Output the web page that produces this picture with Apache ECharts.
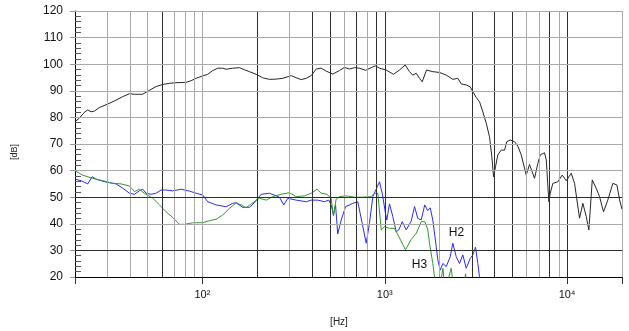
<!DOCTYPE html>
<html>
<head>
<meta charset="utf-8">
<script src="https://cdn.jsdelivr.net/npm/echarts@6/dist/echarts.min.js"></script>
<style>
html,body{margin:0;padding:0;background:#fff;}
#chart{width:629px;height:331px;}
</style>
</head>
<body>
<div id="chart"></div>
<script>
// Fundamental SPL [Hz, dB]
const splData = [[20,78.4],[21.1,79.7],[22.5,81.9],[23.5,82.8],[24.5,82.1],[25.6,82.4],[27.2,83.7],[30.2,85.0],[33.6,86.5],[36.5,87.8],[39.8,88.9],[42.4,88.7],[47,88.7],[51.2,90.2],[55.7,91.6],[60.6,92.4],[65.9,92.8],[70.2,93.0],[81.4,93.2],[86.7,93.8],[92.3,94.7],[100.4,95.6],[106.9,96.2],[113.9,97.6],[121.3,98.5],[129.2,98.5],[134.9,98.1],[146.6,98.5],[159.6,98.7],[170,97.9],[181,97.2],[197,96.2],[214,94.9],[233,94.3],[254,94.4],[276,94.7],[307,95.7],[327,94.9],[348,94.2],[371,94.7],[395,95.7],[421,98.2],[448,98.5],[477,97.4],[519,96.3],[564,97.6],[601,98.8],[640,98.2],[682,98.7],[727,98.5],[784,97.7],[842,98.7],[889,99.4],[935,98.5],[1018,97.8],[1116,96.2],[1204,97.8],[1294,99.7],[1366,97.2],[1424,95.9],[1488,96.6],[1550,94.7],[1604,93.4],[1694,97.8],[1834,97.2],[1996,96.9],[2173,95.9],[2361,94.3],[2516,94.7],[2626,92.6],[2797,92.2],[2942,91.5],[3040,89.7],[3173,87.5],[3307,85.9],[3450,82.1],[3602,77.8],[3754,72.7],[3865,65.2],[3949,57.7],[4050,61.5],[4169,65.9],[4352,67.7],[4538,67.7],[4671,70.9],[4876,71.5],[5147,70.9],[5366,69.2],[5604,65.9],[5968,58.3],[6221,62.3],[6628,57.1],[6911,62.7],[7123,65.9],[7520,66.7],[7684,64.0],[7940,48.3],[8082,51.5],[8352,55.2],[8896,55.8],[9404,58.3],[9892,56.2],[10537,59.0],[10985,55.2],[11700,42.1],[12200,47.7],[12735,42.7],[13160,37.7],[13740,56.5],[14450,53.3],[15060,50.2],[15840,44.5],[16730,49.0],[17820,55.2],[18750,54.6],[19400,49.0],[20000,45.5]];

// 2nd harmonic distortion H2 [Hz, dB]
const h2Data = [[20,56.8],[21.6,56.2],[23.5,55.0],[24.8,57.7],[26.1,56.8],[27.8,56.2],[29.6,55.7],[33.6,55.0],[36.5,53.4],[39.8,51.5],[42.4,51.1],[45.1,52.4],[47,53.0],[49.1,51.5],[52.3,51.1],[55.7,51.5],[59.3,52.7],[63.2,52.7],[68.7,52.4],[76.4,53.0],[84.8,52.3],[92.3,51.5],[100.4,50.8],[106.9,48.3],[118.9,47.1],[134.9,46.4],[146.6,47.7],[153.1,47.9],[166,46.2],[181,46.2],[189,47.3],[210,51.1],[233,51.5],[254,50.5],[264.5,50.0],[279.3,47.1],[293.8,49.6],[327,48.9],[371,48.3],[395,48.9],[429,48.9],[467,48.3],[493,48.9],[508,47.1],[523,43.3],[537,47.1],[552,36.2],[577,41.4],[609,46.4],[668,47.7],[711,48.3],[752,40.2],[791,32.7],[824,40.2],[860,50.2],[935,55.8],[968,51.5],[1009,43.9],[1026,41.4],[1061,47.5],[1107,42.7],[1155,37.0],[1194,37.7],[1246,40.8],[1311,37.7],[1396,41.0],[1456,46.5],[1518,42.0],[1585,41.5],[1656,47.1],[1720,45.0],[1775,46.0],[1834,41.4],[1915,31.4],[1954,26.4],[2014,22.6],[2082,25.1],[2173,23.9],[2285,27.6],[2361,32.7],[2465,27.6],[2570,25.1],[2679,28.3],[2797,23.3],[2942,27.0],[3040,28.3],[3145,31.2],[3238,25.1],[3307,20.1],[3393,17.0]];

// 3rd harmonic distortion H3 [Hz, dB]
const h3Data = [[20,60.0],[22,58.3],[25,57.1],[28.4,56.2],[32.2,55.2],[35.8,55.0],[39.8,54.2],[42.4,52.1],[45.1,53.0],[48,51.5],[53.4,49.6],[58.1,47.1],[63.2,44.5],[68.7,42.4],[74.8,39.8],[79.7,39.8],[88.5,40.4],[100.4,40.4],[109.2,41.2],[118.9,41.7],[129.2,43.3],[140.7,45.8],[153.1,47.9],[163.1,47.1],[173.7,46.0],[181,47.0],[205.5,49.6],[223.6,48.9],[243,50.2],[270,51.1],[300,51.7],[327,50.2],[363,50.5],[395,51.5],[425,53.0],[448,51.5],[481,51.1],[508,49.6],[523,42.9],[541,49.2],[564,50.2],[614,50.5],[682,50.0],[757,50.0],[842,50.2],[878,51.5],[916,51.5],[956,37.7],[996,38.9],[1061,38.3],[1131,38.3],[1194,35.2],[1299,30.2],[1396,34.1],[1488,36.4],[1585,40.8],[1656,40.8],[1720,38.0],[1759,32.7],[1834,25.1],[1898,17.0],[2000,15.0],[2082,23.3],[2145,15.0],[2314,23.3],[2382,16.0],[2700,15.0],[2773,21.2],[2850,15.0]];

// grid / tick definitions
const freqGrid = [30,40,50,60,70,80,90,100,200,300,400,500,600,700,800,900,1000,2000,3000,4000,5000,6000,7000,8000,9000,10000,20000];
const darkFreqs = [60,200,400,500,700,900,1000,3000,4000,5000,8000,10000];
const dbGrid = [30,40,50,60,70,80,90,100,110,120];
const darkDb = [30,50];
const annotations = [{name:'H2', coord:[2474,36.5]},{name:'H3', coord:[1550,24.5]}];

const GRAY = '#a9a9a9', DARK = '#2e2e2e';
const sup = {'2':'²','3':'³','4':'⁴'};

const gridLines = freqGrid.map(v => ({xAxis: v, lineStyle: {color: darkFreqs.includes(v) ? DARK : GRAY}}))
  .concat(dbGrid.map(v => ({yAxis: v, lineStyle: {color: darkDb.includes(v) ? DARK : GRAY}})));

const chart = echarts.init(document.getElementById('chart'), null, {renderer: 'canvas'});
const font = '"Liberation Sans", Arial, sans-serif';
chart.setOption({
  animation: false,
  backgroundColor: '#fff',
  textStyle: {fontFamily: font},
  grid: {left: 75, right: 7, top: 11, bottom: 54, containLabel: false},
  xAxis: {
    type: 'log', logBase: 10, min: 20, max: 20000,
    axisLine: {show: true, lineStyle: {color: '#000', width: 1}},
    axisTick: {show: true, length: 7, lineStyle: {color: '#333'}},
    axisLabel: {
      margin: 12, fontSize: 11, color: '#111', fontFamily: font, showMinLabel: true, showMaxLabel: true,
      formatter: function (v) {
        const e = Math.log10(v);
        if (Math.abs(e - Math.round(e)) < 1e-6) return '10' + (sup[String(Math.round(e))] || '');
        return '';
      }
    },
    splitLine: {show: false}
  },
  yAxis: [{
    type: 'value', min: 20, max: 120, interval: 10, z: 3,
    axisLine: {show: true, lineStyle: {color: '#000', width: 1}},
    axisTick: {show: true, length: 5, lineStyle: {color: '#999'}},
    minorTick: {show: false},
    axisLabel: {margin: 12, fontSize: 12, color: '#111', fontFamily: font},
    splitLine: {show: false}
  }, {
    type: 'value', min: 20, max: 120, interval: 10, position: 'left', offset: 0, z: 3,
    axisLine: {show: false},
    axisTick: {show: false, inside: true},
    minorTick: {show: true, splitNumber: 5, length: 6, lineStyle: {color: '#555'}},
    axisLabel: {show: false},
    splitLine: {show: false}
  }],
  graphic: [
    {type: 'text', rotation: Math.PI / 2, x: 15, y: 152,
     style: {text: '[dB]', font: '9px ' + font, fill: '#222', textAlign: 'center', textVerticalAlign: 'middle'}},
    {type: 'text', x: 339, y: 322,
     style: {text: '[Hz]', font: '10px ' + font, fill: '#222', textAlign: 'center', textVerticalAlign: 'middle'}}
  ],
  series: [
    {
      type: 'line', data: [], z: 1, silent: true,
      markLine: {
        silent: true, symbol: ['none', 'none'], label: {show: false}, animation: false,
        lineStyle: {type: 'solid', width: 1},
        emphasis: {disabled: true},
        data: gridLines
      }
    },
    {
      name: 'SPL', type: 'line', data: splData, showSymbol: false, symbol: 'none', z: 3,
      lineStyle: {color: '#262626', width: 1}, itemStyle: {color: '#262626'}, clip: true
    },
    {
      name: 'H2', type: 'line', data: h2Data, showSymbol: false, symbol: 'none', z: 4,
      lineStyle: {color: '#2b2bf2', width: 1}, itemStyle: {color: '#2b2bf2'}, clip: true,
      markPoint: {
        symbol: 'circle', symbolSize: 1, itemStyle: {color: 'rgba(0,0,0,0)'}, silent: true,
        label: {show: true, position: 'inside', formatter: '{b}', fontSize: 12, color: '#111', fontFamily: font},
        data: [annotations[0]]
      }
    },
    {
      name: 'H3', type: 'line', data: h3Data, showSymbol: false, symbol: 'none', z: 4,
      lineStyle: {color: '#2f9a2f', width: 1}, itemStyle: {color: '#2f9a2f'}, clip: true,
      markPoint: {
        symbol: 'circle', symbolSize: 1, itemStyle: {color: 'rgba(0,0,0,0)'}, silent: true,
        label: {show: true, position: 'inside', formatter: '{b}', fontSize: 12, color: '#111', fontFamily: font},
        data: [annotations[1]]
      }
    }
  ]
});
</script>
</body>
</html>
